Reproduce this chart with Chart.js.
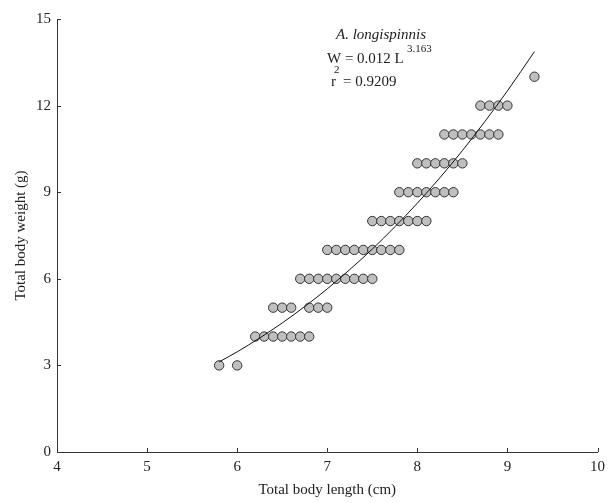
<!DOCTYPE html>
<html>
<head>
<meta charset="utf-8">
<script src="https://cdn.jsdelivr.net/npm/chart.js@4.4.1/dist/chart.umd.min.js"></script>
<style>
  html, body { margin: 0; padding: 0; background: #fff; }
  #wrap { width: 611px; height: 503px; }
</style>
</head>
<body>
<div id="wrap"><canvas id="lwChart" width="611" height="503"></canvas></div>
<script>
// measured fish, one entry per dot (cm, g)
const lengthsCm = [
  5.8, 6.0,
  6.2, 6.3, 6.4, 6.5, 6.6, 6.7, 6.8,
  6.4, 6.5, 6.6, 6.8, 6.9, 7.0,
  6.7, 6.8, 6.9, 7.0, 7.1, 7.2, 7.3, 7.4, 7.5,
  7.0, 7.1, 7.2, 7.3, 7.4, 7.5, 7.6, 7.7, 7.8,
  7.5, 7.6, 7.7, 7.8, 7.9, 8.0, 8.1,
  7.8, 7.9, 8.0, 8.1, 8.2, 8.3, 8.4,
  8.0, 8.1, 8.2, 8.3, 8.4, 8.5,
  8.3, 8.4, 8.5, 8.6, 8.7, 8.8, 8.9,
  8.7, 8.8, 8.9, 9.0,
  9.3
];
const weightsG = [
  3, 3,
  4, 4, 4, 4, 4, 4, 4,
  5, 5, 5, 5, 5, 5,
  6, 6, 6, 6, 6, 6, 6, 6, 6,
  7, 7, 7, 7, 7, 7, 7, 7, 7,
  8, 8, 8, 8, 8, 8, 8,
  9, 9, 9, 9, 9, 9, 9,
  10, 10, 10, 10, 10, 10,
  11, 11, 11, 11, 11, 11, 11,
  12, 12, 12, 12,
  13
];

// fitted curve
const fitLength = [5.8, 6.0, 6.25, 6.5, 6.75, 7.0, 7.25, 7.5, 7.75, 8.0, 8.25, 8.5, 8.75, 9.0, 9.3];
const fitWeight = [3.12, 3.47, 3.95, 4.47, 5.04, 5.65, 6.32, 7.03, 7.80, 8.62, 9.50, 10.44, 11.45, 12.51, 13.87];

const xTicks = [4, 5, 6, 7, 8, 9, 10];
const yTicks = [0, 3, 6, 9, 12, 15];

const SERIF = "'Liberation Serif', 'DejaVu Serif', serif";
const INK = '#222';

const points = lengthsCm.map((x, i) => ({ x: x, y: weightsG[i] }));
const curve = fitLength.map((x, i) => ({ x: x, y: fitWeight[i] }));

// inward tick marks, like the printed figure
const innerTicks = {
  id: 'innerTicks',
  afterDraw(chart) {
    const { ctx, scales: { x, y }, chartArea } = chart;
    ctx.save();
    ctx.strokeStyle = '#333';
    ctx.lineWidth = 1;
    ctx.beginPath();
    xTicks.forEach(v => {
      const px = Math.round(x.getPixelForValue(v)) + 0.5;
      ctx.moveTo(px, chartArea.bottom);
      ctx.lineTo(px, chartArea.bottom - 4);
    });
    yTicks.forEach(v => {
      const py = Math.round(y.getPixelForValue(v)) + 0.5;
      ctx.moveTo(chartArea.left, py);
      ctx.lineTo(chartArea.left + 4, py);
    });
    ctx.stroke();
    ctx.restore();
  }
};

// equation block
const equation = {
  id: 'equation',
  afterDraw(chart) {
    const ctx = chart.ctx;
    ctx.save();
    ctx.fillStyle = INK;
    ctx.textBaseline = 'middle';

    ctx.font = 'italic 15px ' + SERIF;
    ctx.textAlign = 'center';
    ctx.fillText('A. longispinnis', 381, 35);

    ctx.textAlign = 'left';
    ctx.font = '15px ' + SERIF;
    ctx.fillText('W = 0.012 L', 327, 59);
    ctx.fillText('r', 331, 82);
    ctx.fillText('= 0.9209', 343, 82);

    ctx.font = '11px ' + SERIF;
    ctx.fillText('3.163', 407, 49);
    ctx.fillText('2', 334, 70);
    ctx.restore();
  }
};

new Chart(document.getElementById('lwChart'), {
  type: 'scatter',
  data: {
    datasets: [
      {
        type: 'line',
        label: 'fit',
        data: curve,
        borderColor: '#111',
        borderWidth: 1,
        pointRadius: 0,
        fill: false,
        cubicInterpolationMode: 'monotone',
        order: 0
      },
      {
        label: 'A. longispinnis',
        data: points,
        backgroundColor: '#bfbfbf',
        borderColor: '#333',
        borderWidth: 1,
        pointRadius: 4.7,
        order: 1
      }
    ]
  },
  options: {
    responsive: false,
    animation: false,
    devicePixelRatio: 1,
    layout: { padding: { top: 19, right: 8, left: 0, bottom: 0 } },
    plugins: {
      legend: { display: false },
      tooltip: { enabled: false }
    },
    scales: {
      x: {
        type: 'linear',
        min: 4,
        max: 10,
        afterBuildTicks: s => { s.ticks = xTicks.map(v => ({ value: v })); },
        afterFit: s => { s.height = 51; },
        grid: { display: true, drawOnChartArea: false, drawTicks: false },
        border: { display: true, color: '#333', width: 1 },
        ticks: { color: INK, padding: 6, maxRotation: 0, font: { family: SERIF, size: 15 } },
        title: {
          display: true,
          text: 'Total body length (cm)',
          color: INK,
          padding: { top: 0, bottom: 4 },
          font: { family: SERIF, size: 15 }
        }
      },
      y: {
        type: 'linear',
        min: 0,
        max: 15,
        afterBuildTicks: s => { s.ticks = yTicks.map(v => ({ value: v })); },
        afterFit: s => { s.width = 57; },
        grid: { display: true, drawOnChartArea: false, drawTicks: false },
        border: { display: true, color: '#333', width: 1 },
        ticks: { color: INK, padding: 6, font: { family: SERIF, size: 15 } },
        title: {
          display: true,
          text: 'Total body weight (g)',
          color: INK,
          padding: { top: 12, bottom: 0 },
          font: { family: SERIF, size: 15 }
        }
      }
    }
  },
  plugins: [innerTicks, equation]
});
</script>
</body>
</html>
